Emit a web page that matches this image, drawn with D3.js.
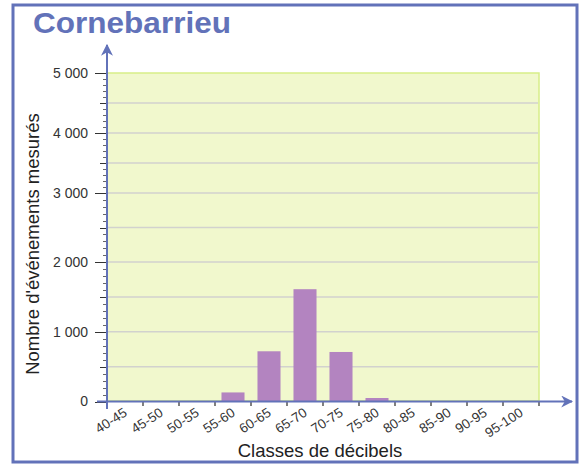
<!DOCTYPE html>
<html>
<head>
<meta charset="utf-8">
<script src="https://cdn.jsdelivr.net/npm/d3@7/dist/d3.min.js"></script>
<style>
  body { margin: 0; background: #fff; }
  text { font-family: "Liberation Sans", Arial, sans-serif; }
</style>
</head>
<body>
<div id="chart"></div>
<script>
//// ======================= DATA ======================= ////

var classes = ["40-45", "45-50", "50-55", "55-60", "60-65", "65-70",
               "70-75", "75-80", "80-85", "85-90", "90-95", "95-100"];
var counts = [0, 0, 0, 130, 720, 1610, 710, 50, 0, 0, 0, 0];
var majorTicks = [0, 1000, 2000, 3000, 4000, 5000];
var gridValues = [500, 1000, 1500, 2000, 2500, 3000, 3500, 4000, 4500];

var title = "Cornebarrieu";
var xTitle = "Classes de décibels";
var yTitle = "Nombre d'événements mesurés";

//// ======================= LAYOUT ======================= ////

var width = 584, height = 466;
var plotLeft = 107, plotRight = 539, plotTop = 73, plotBottom = 401;
var blue = "#6272b9";

var svg = d3.select("#chart").append("svg")
    .attr("width", width)
    .attr("height", height);

svg.append("defs").append("marker")
    .attr("id", "arrow")
    .attr("viewBox", "0 0 10 10")
    .attr("refX", 9)
    .attr("refY", 5)
    .attr("markerWidth", 6)
    .attr("markerHeight", 6)
    .attr("markerUnits", "strokeWidth")
    .attr("orient", "auto")
    .append("path")
    .attr("d", "M0,0 L10,5 L0,10 L3,5 Z")
    .attr("fill", blue);

// frame
svg.append("rect")
    .attr("x", 13).attr("y", 5)
    .attr("width", 564).attr("height", 457)
    .attr("fill", "#fff")
    .attr("stroke", blue)
    .attr("stroke-width", 3);

svg.append("text")
    .attr("x", 33).attr("y", 33)
    .attr("textLength", 198)
    .attr("lengthAdjust", "spacingAndGlyphs")
    .style("font-size", "30px")
    .style("font-weight", "bold")
    .attr("fill", blue)
    .text(title);

// scales (the vertical scale in the original is not quite linear)
var x = d3.scaleBand()
    .domain(classes)
    .range([plotLeft, plotRight])
    .paddingInner(0.36)
    .paddingOuter(0.18);

var y = d3.scaleLinear()
    .domain([0, 2000, 3000, 5000])
    .range([plotBottom + 0.5, plotBottom - 139, plotBottom - 208, plotTop]);

// plot background
svg.append("rect")
    .attr("x", plotLeft).attr("y", plotTop)
    .attr("width", plotRight - plotLeft).attr("height", plotBottom - plotTop)
    .attr("fill", "#f1f8cd")
    .attr("stroke", "#d7ee88")
    .attr("stroke-width", 1.5);

svg.selectAll(".grid")
    .data(gridValues)
    .enter().append("line")
    .attr("class", "grid")
    .attr("x1", plotLeft + 1).attr("x2", plotRight - 1)
    .attr("y1", function(d) { return y(d); })
    .attr("y2", function(d) { return y(d); })
    .attr("stroke", "#d2d2ce")
    .attr("stroke-width", 1.5);

// bars
svg.selectAll(".bar")
    .data(counts)
    .enter().append("rect")
    .attr("class", "bar")
    .attr("x", function(d, i) { return x(classes[i]); })
    .attr("width", x.bandwidth())
    .attr("y", function(d) { return y(d); })
    .attr("height", function(d) { return y(0) - y(d); })
    .attr("fill", "#b384c0");

//// ======================= AXES ======================= ////

// minor ticks on y
var minor = d3.range(0, 5001, 100);
svg.selectAll(".ytick")
    .data(minor)
    .enter().append("line")
    .attr("class", "ytick")
    .attr("x1", function(d) {
        if (d % 1000 === 0) return plotLeft - 12;
        if (d % 500 === 0) return plotLeft - 7;
        return plotLeft - 4;
    })
    .attr("x2", plotLeft)
    .attr("y1", function(d) { return Math.round(y(d)) + 0.5; })
    .attr("y2", function(d) { return Math.round(y(d)) + 0.5; })
    .attr("stroke", function(d) { return d % 500 === 0 ? "#333" : "#666"; })
    .attr("stroke-width", 1);

var fmt = d3.formatLocale({ decimal: ",", thousands: " ", grouping: [3], currency: ["", "€"] }).format(",d");

svg.selectAll(".ylabel")
    .data(majorTicks)
    .enter().append("text")
    .attr("class", "ylabel")
    .attr("x", 88)
    .attr("y", function(d) { return y(d); })
    .attr("dy", "0.35em")
    .attr("text-anchor", "end")
    .style("font-size", "14px")
    .attr("fill", "#333")
    .text(function(d) { return fmt(d); });

// x ticks at class boundaries
var bounds = d3.range(classes.length + 1);
svg.selectAll(".xtick")
    .data(bounds)
    .enter().append("line")
    .attr("class", "xtick")
    .attr("x1", function(d) { return plotLeft + d * x.step(); })
    .attr("x2", function(d) { return plotLeft + d * x.step(); })
    .attr("y1", plotBottom)
    .attr("y2", plotBottom + 5)
    .attr("stroke", "#555")
    .attr("stroke-width", 1.5);

svg.selectAll(".xlabel")
    .data(classes)
    .enter().append("text")
    .attr("class", "xlabel")
    .attr("text-anchor", "end")
    .attr("transform", function(d) {
        var cx = x(d) + x.bandwidth() / 2 + 3;
        return "translate(" + cx + "," + (plotBottom + 14) + ") rotate(-33)";
    })
    .style("font-size", "13.5px")
    .attr("fill", "#333")
    .text(function(d) { return d; });

// axis lines with arrows
svg.append("line")
    .attr("x1", 97).attr("x2", 572)
    .attr("y1", plotBottom + 0.5).attr("y2", plotBottom + 0.5)
    .attr("stroke", blue)
    .attr("stroke-width", 2)
    .attr("marker-end", "url(#arrow)");

svg.append("line")
    .attr("x1", plotLeft).attr("x2", plotLeft)
    .attr("y1", plotBottom + 8).attr("y2", 45)
    .attr("stroke", blue)
    .attr("stroke-width", 2)
    .attr("marker-end", "url(#arrow)");

// titles
svg.append("text")
    .attr("x", 320).attr("y", 457)
    .attr("text-anchor", "middle")
    .style("font-size", "18.5px")
    .attr("fill", "#222")
    .text(xTitle);

svg.append("text")
    .attr("transform", "translate(39,244) rotate(-90)")
    .attr("text-anchor", "middle")
    .style("font-size", "18.5px")
    .attr("fill", "#222")
    .text(yTitle);
</script>
</body>
</html>
